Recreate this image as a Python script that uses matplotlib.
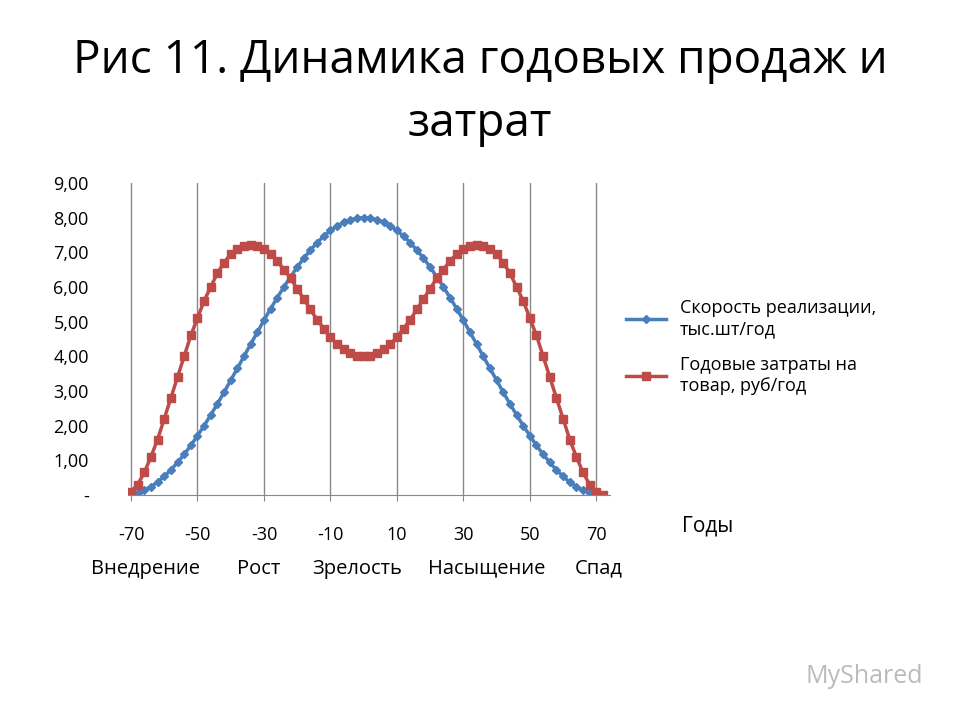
import matplotlib
matplotlib.use("Agg")
import matplotlib.pyplot as plt
from matplotlib.ticker import FuncFormatter

plt.rcParams['font.family'] = ['Open Sans', 'DejaVu Sans']

half_x = list(range(0, 74, 2))
blue_half = [8.00,7.98,7.94,7.86,7.76,7.63,7.46,7.28,7.06,6.83,6.57,6.29,6.00,5.69,5.37,5.04,
             4.69,4.35,4.00,3.65,3.31,2.96,2.63,2.31,2.00,1.71,1.43,1.17,0.94,0.72,0.54,0.37,
             0.24,0.14,0.06,0.02,0.00]
red_half = [4.0,4.02,4.1,4.2,4.35,4.55,4.8,5.05,5.35,5.65,5.95,6.25,6.5,6.75,6.95,7.08,7.17,7.2,
            7.18,7.1,6.95,6.7,6.4,6.0,5.6,5.1,4.6,4.0,3.4,2.8,2.2,1.6,1.1,0.65,0.3,0.1,0.0]
years = [-x for x in half_x[:0:-1]] + half_x
blue = blue_half[:0:-1] + blue_half
red = red_half[:0:-1] + red_half
xticks = [-70, -50, -30, -10, 10, 30, 50, 70]
stages = ["Внедрение", "Рост", "Зрелость", "Насыщение", "Спад"]

fig = plt.figure(figsize=(9.6, 7.2), dpi=100)
fig.text(0.5, 0.915, "Рис 11. Динамика годовых продаж и", ha='center', va='center', fontsize=33)
fig.text(0.5, 0.828, "затрат", ha='center', va='center', fontsize=33)
ax = fig.add_axes([0.133, 0.3125, 0.502, 0.4335])
ax.plot(years, blue, color='#4a7ebb', marker='D', markersize=4, lw=2.5,
        label="Скорость реализации,\nтыс.шт/год")
ax.plot(years, red, color='#be4b48', marker='s', markersize=5.5, lw=2.5,
        label="Годовые затраты на\nтовар, руб/год")
ax.set_xlim(-71, 74)
ax.set_ylim(0, 9)
ax.set_yticks(range(0, 10))
ax.yaxis.set_major_formatter(FuncFormatter(lambda v, p: "-" if v == 0 else f"{v:.2f}".replace('.', ',')))
ax.set_xticks(xticks)
ax.set_xticklabels([str(t) for t in xticks])
ax.grid(axis='x', color='#888888', lw=1)
ax.tick_params(axis='y', length=0, labelsize=13, pad=28)
ax.tick_params(axis='x', length=4, labelsize=13, pad=18, color='#888888')
for s in ['top', 'right', 'left']:
    ax.spines[s].set_visible(False)
ax.spines['bottom'].set_color('#888888')
ax.legend(loc='upper left', bbox_to_anchor=(1.0, 0.68), frameon=False, fontsize=13,
          labelspacing=1.0, handlelength=2.2)
fig.text(0.71, 0.27, "Годы", fontsize=15, va='center')
for i, s in enumerate(stages):
    fig.text([0.152, 0.269, 0.372, 0.507, 0.624][i], 0.21, s, ha='center', va='center', fontsize=14.5)
fig.text(0.90, 0.06, "MyShared", ha='center', va='center', fontsize=18, color='#bbbbbb')
fig.savefig("out.png", dpi=100)
